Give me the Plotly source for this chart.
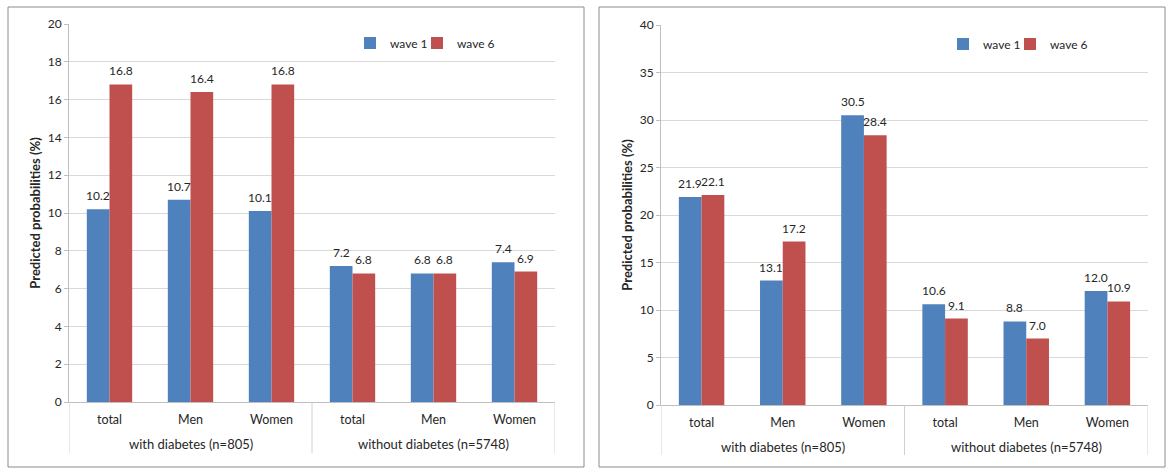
import plotly.graph_objects as go

groups = ["with diabetes (n=805)"] * 3 + ["without diabetes (n=5748)"] * 3
subcats = ["total", "Men", "Women", "total", "Men", "Women"]

left_wave1 = [10.2, 10.7, 10.1, 7.2, 6.8, 7.4]
left_wave6 = [16.8, 16.4, 16.8, 6.8, 6.8, 6.9]
right_wave1 = [21.9, 13.1, 30.5, 10.6, 8.8, 12.0]
right_wave6 = [22.1, 17.2, 28.4, 9.1, 7.0, 10.9]

left_ticks = [0, 2, 4, 6, 8, 10, 12, 14, 16, 18, 20]
right_ticks = [0, 5, 10, 15, 20, 25, 30, 35, 40]

BLUE = "#4F81BD"
RED = "#C0504D"
FONT = "Lato, 'Open Sans', sans-serif"
TXT = "#262626"
W, H = 1170, 469
BARGAP = 0.44

def px(x):
    return x / W

def py(y):
    return 1 - y / H

xs = list(range(len(subcats)))

fig = go.Figure()
annotations = []
bar_w = (1 - BARGAP) / 2

def add_bars(vals, name, color, xa, ya, legend, side):
    fig.add_trace(go.Bar(
        x=xs, y=vals, name=name,
        marker=dict(color=color, line=dict(width=0)),
        cliponaxis=False,
        xaxis=xa, yaxis=ya, legend=legend, showlegend=True,
    ))
    # value labels just above each bar
    for xi, v in zip(xs, vals):
        annotations.append(dict(
            text=f"{v:.1f}", x=xi + side * bar_w / 2, y=v, xref=xa, yref=ya,
            showarrow=False, xanchor="center", yanchor="bottom", yshift=4,
            font=dict(family=FONT, size=12, color=TXT)))

add_bars(left_wave1, "wave 1", BLUE, "x", "y", "legend", -1)
add_bars(left_wave6, "wave 6", RED, "x", "y", "legend3", 1)
add_bars(right_wave1, "wave 1", BLUE, "x2", "y2", "legend2", -1)
add_bars(right_wave6, "wave 6", RED, "x2", "y2", "legend4", 1)

xcommon = dict(
    range=[-0.5, len(subcats) - 0.5], tickvals=xs, ticktext=subcats,
    showline=True, linecolor="#BFBFBF", linewidth=1,
    tickfont=dict(family=FONT, size=12.5, color=TXT), ticks="",
    ticklabelstandoff=6,
    showgrid=False, zeroline=False, fixedrange=True, automargin=False,
)
ycommon = dict(
    showline=True, linecolor="#BFBFBF", linewidth=1,
    ticks="outside", ticklen=4, tickcolor="#BFBFBF",
    gridcolor="#D9D9D9", gridwidth=1, zeroline=False, automargin=False,
    tickfont=dict(family=FONT, size=12, color=TXT),
    title=dict(text="<b>Predicted probabilities (%)</b>",
               font=dict(family=FONT, size=13, color=TXT), standoff=4),
)

# group labels and dividers derived from the group list
group_names = []
for g in groups:
    if g not in group_names:
        group_names.append(g)
bounds = [-0.5]
centers = []
for g in group_names:
    idx = [i for i, gg in enumerate(groups) if gg == g]
    centers.append((idx[0] + idx[-1]) / 2)
    bounds.append(idx[-1] + 0.5)

shapes = []
for xa, ya, lab_y, div_len in [("x", "y", -(444 - 402) / 378, (453 - 402) / 378),
                               ("x2", "y2", -(447 - 405) / 380, (455 - 405) / 380)]:
    for g, c in zip(group_names, centers):
        annotations.append(dict(
            text=g, x=c, y=lab_y, xref=xa, yref=ya + " domain",
            showarrow=False, yanchor="middle", xanchor="center",
            font=dict(family=FONT, size=13, color=TXT)))
    for b in bounds:
        shapes.append(dict(
            type="line", xref=xa, yref=ya + " domain", x0=b, x1=b, y0=0, y1=-div_len,
            line=dict(color="#D0D0D0", width=1)))

shapes += [
    dict(type="rect", xref="paper", yref="paper",
         x0=px(8), x1=px(584), y0=py(467), y1=py(7),
         line=dict(color="#8C8C8C", width=1), fillcolor="rgba(0,0,0,0)", layer="below"),
    dict(type="rect", xref="paper", yref="paper",
         x0=px(599), x1=px(1165), y0=py(467), y1=py(7),
         line=dict(color="#8C8C8C", width=1), fillcolor="rgba(0,0,0,0)", layer="below"),
]

legend_common = dict(orientation="h", xanchor="left", yanchor="middle",
                     font=dict(family=FONT, size=12, color=TXT),
                     bgcolor="rgba(0,0,0,0)", itemwidth=30)

fig.update_layout(
    template="none",
    width=W, height=H,
    margin=dict(l=0, r=0, t=0, b=0, autoexpand=False),
    paper_bgcolor="white", plot_bgcolor="white",
    barmode="group", bargap=BARGAP, bargroupgap=0,
    font=dict(family=FONT, color=TXT),
    xaxis=dict(domain=[px(69), px(555)], anchor="y", **xcommon),
    yaxis=dict(domain=[py(402), py(24)], anchor="x", range=[0, 20],
               tickvals=left_ticks, **ycommon),
    xaxis2=dict(domain=[px(661), px(1148)], anchor="y2", **xcommon),
    yaxis2=dict(domain=[py(405), py(25)], anchor="x2", range=[0, 40],
                tickvals=right_ticks, **ycommon),
    legend=dict(x=px(350), y=py(43), **legend_common),
    legend3=dict(x=px(417), y=py(43), **legend_common),
    legend2=dict(x=px(943), y=py(44), **legend_common),
    legend4=dict(x=px(1010), y=py(44), **legend_common),
    annotations=annotations,
    shapes=shapes,
)

fig.write_html(
    "out.html",
    config={"displayModeBar": False},
    post_script="document.body.style.margin='0';document.body.style.overflow='hidden';",
)
